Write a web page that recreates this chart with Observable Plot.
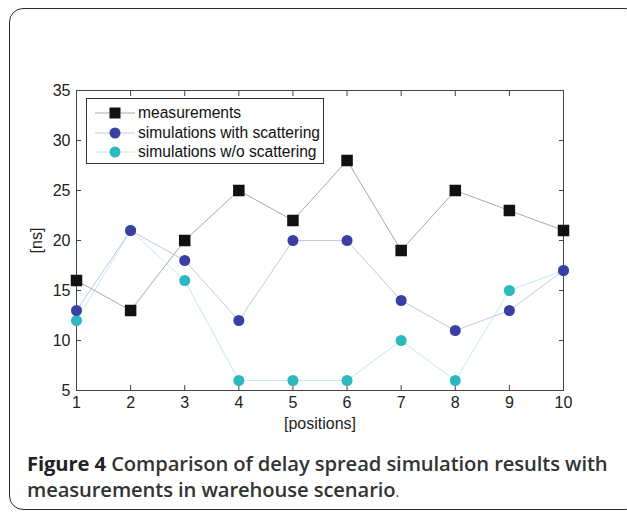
<!DOCTYPE html>
<html>
<head>
<meta charset="utf-8">
<script src="https://cdn.jsdelivr.net/npm/d3@7"></script>
<script src="https://cdn.jsdelivr.net/npm/@observablehq/plot@0.6"></script>
<style>
  html, body { margin: 0; padding: 0; background: #fff; }
  #page { position: relative; width: 627px; height: 514px; overflow: hidden; }
  #border { position: absolute; left: 9px; top: 8px; width: 630px; height: 502px;
            border: 1.6px solid #2a2a2a; border-radius: 14px; box-sizing: border-box; }
  #chart { position: absolute; left: 0; top: 0; }
  #legend { position: absolute; left: 86px; top: 98px; width: 238px; height: 66px;
            border: 1px solid #333; background: #fff; box-sizing: border-box;
            font-family: "Liberation Sans", Arial, sans-serif; font-size: 15.6px; color: #111; }
  .row { position: absolute; left: 0; height: 20px; display: flex; align-items: center; }
  .row svg { margin-left: 8px; }
  .row span { margin-left: 3px; white-space: nowrap; }
  #caption { position: absolute; left: 27px; top: 450px; width: 598px;
             font-family: "Open Sans", "Noto Sans", sans-serif; font-size: 20.2px;
             font-weight: 600; color: #333; line-height: 26px; letter-spacing: -0.1px; }
  #caption b { font-weight: 700; color: #222; }
  #caption .dot { font-weight: 400; font-size: 14px; }
</style>
</head>
<body>
<div id="page">
  <div id="border"></div>
  <div id="chart"></div>
  <div id="legend"></div>
  <div id="caption"><b>Figure 4</b> Comparison of delay spread simulation results with<br>measurements in warehouse scenario<span class="dot">.</span></div>
</div>
<script>
const positions = [1, 2, 3, 4, 5, 6, 7, 8, 9, 10];
const measurements = [16, 13, 20, 25, 22, 28, 19, 25, 23, 21];
const withScattering = [13, 21, 18, 12, 20, 20, 14, 11, 13, 17];
const withoutScattering = [12, 21, 16, 6, 6, 6, 10, 6, 15, 17];
const seriesNames = ["measurements", "simulations with scattering", "simulations w/o scattering"];
const xTicks = [1, 2, 3, 4, 5, 6, 7, 8, 9, 10];
const yTicks = [5, 10, 15, 20, 25, 30, 35];

const markColors = ["#111111", "#3a40a3", "#2bb9bf"];
const lineColors = ["#a9a9a9", "#c3c8e3", "#c4e9ec"];

const rows = (vals, s) => positions.map((p, i) => ({x: p, y: vals[i], s}));
const mData = rows(measurements, seriesNames[0]);
const wData = rows(withScattering, seriesNames[1]);
const oData = rows(withoutScattering, seriesNames[2]);

const font = "Liberation Sans, Arial, sans-serif";

const chart = Plot.plot({
  width: 627,
  height: 440,
  marginLeft: 76,
  marginRight: 64,
  marginTop: 90,
  marginBottom: 50,
  style: {fontFamily: font, fontSize: "16px", color: "#222", background: "transparent"},
  x: {domain: [1, 10]},
  y: {domain: [5, 35]},
  marks: [
    Plot.frame({stroke: "#444", strokeWidth: 1}),
    Plot.axisX({ticks: xTicks, tickSize: -5, tickPadding: 11, tickFormat: d => String(d),
                label: "[positions]", labelAnchor: "center", labelArrow: "none", labelOffset: 38,
                stroke: "#444", fontSize: 16}),
    Plot.axisX({anchor: "top", ticks: xTicks, tickSize: -5, tickFormat: () => "", label: null, stroke: "#444"}),
    Plot.axisY({ticks: yTicks, tickSize: -5, tickPadding: 11, tickFormat: d => String(d),
                label: "[ns]", labelAnchor: "center", labelArrow: "none", labelOffset: 46,
                stroke: "#444", fontSize: 16}),
    Plot.axisY({anchor: "right", ticks: yTicks, tickSize: -5, tickFormat: () => "", label: null, stroke: "#444"}),
    Plot.line(oData, {x: "x", y: "y", stroke: lineColors[2], strokeWidth: 1}),
    Plot.line(wData, {x: "x", y: "y", stroke: lineColors[1], strokeWidth: 1}),
    Plot.line(mData, {x: "x", y: "y", stroke: lineColors[0], strokeWidth: 1}),
    Plot.dot(oData, {x: "x", y: "y", r: 5.5, fill: markColors[2], stroke: "none"}),
    Plot.dot(wData, {x: "x", y: "y", r: 5.5, fill: markColors[1], stroke: "none"}),
    Plot.dot(mData, {x: "x", y: "y", r: 6.5, symbol: "square", fill: markColors[0], stroke: "none"})
  ]
});
document.getElementById("chart").appendChild(chart);

// legend
const legend = document.getElementById("legend");
seriesNames.forEach((name, i) => {
  const row = document.createElement("div");
  row.className = "row";
  row.style.top = (4 + i * 19.5) + "px";
  const sym = i === 0
    ? `<rect x="14.5" y="4.5" width="11" height="11" fill="${markColors[0]}"/>`
    : `<circle cx="20" cy="10" r="5.5" fill="${markColors[i]}"/>`;
  row.innerHTML = `<svg width="40" height="20"><line x1="0" x2="40" y1="10" y2="10" stroke="${lineColors[i]}" stroke-width="1"/>${sym}</svg><span>${name}</span>`;
  legend.appendChild(row);
});
</script>
</body>
</html>
